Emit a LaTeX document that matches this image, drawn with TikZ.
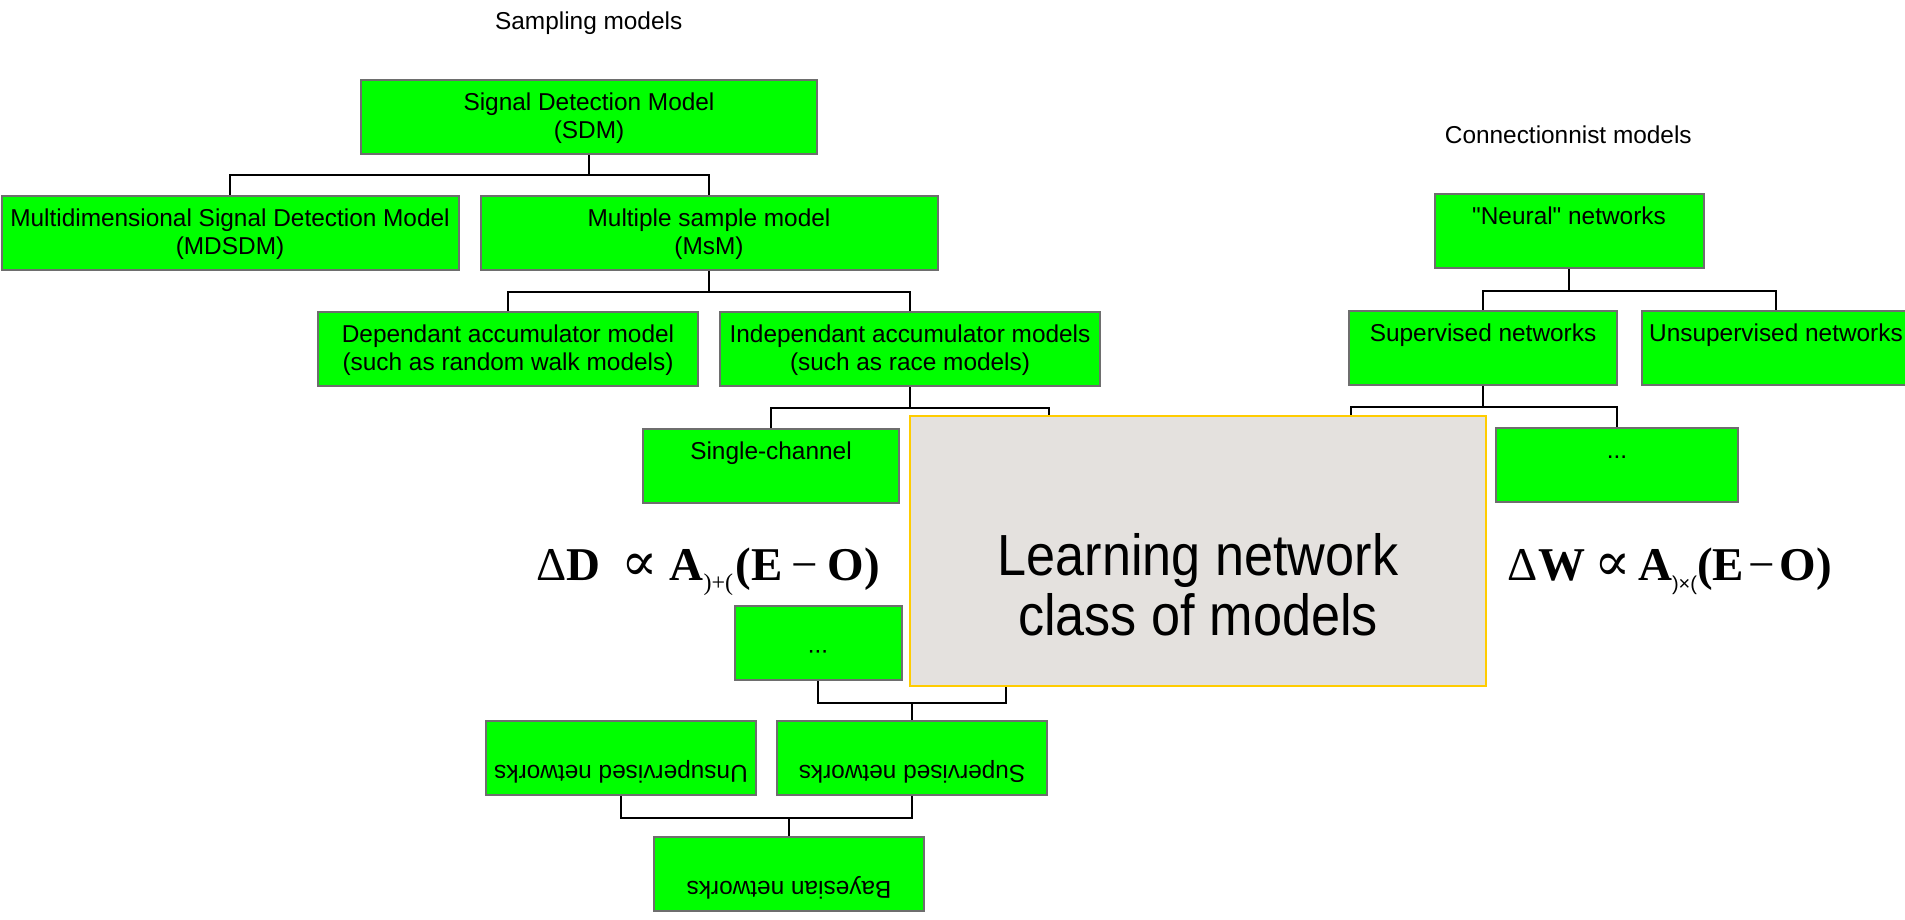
\documentclass[tikz,border=0pt]{standalone}
\usepackage{fontspec}
\setmainfont{Liberation Sans}
\newfontfamily\qfont{Liberation Sans}
\newfontfamily\bigfont{Liberation Sans}[FakeStretch=0.9]
\newfontfamily\tnr{Liberation Serif}
\newfontfamily\dvs{DejaVu Serif}
\definecolor{boxgreen}{HTML}{00FF00}
\definecolor{boxborder}{HTML}{6E6E6E}
\definecolor{grayfill}{HTML}{E4E1DE}
\definecolor{goldline}{HTML}{FFCC00}
\begin{document}
\begin{tikzpicture}[x=1pt,y=-1pt,
  box/.style={draw=boxborder, line width=2pt, fill=boxgreen, inner sep=0pt,
    align=center, text height=30pt, text depth=44pt, minimum width=#1,
    font=\fontsize{24.4}{28}\selectfont},
  boxtwo/.style={box=#1, text height=58pt, text depth=16pt},
  flipbox/.style={box=#1, rotate=180},
  conn/.style={draw=black, line width=2pt},
  titletext/.style={anchor=base, inner sep=0pt, font=\fontsize{24.4}{28}\selectfont},
  formula/.style={anchor=base, inner sep=0pt}]
\fill[white] (0,0) rectangle (1905,919);
\useasboundingbox (0,0) rectangle (1905,919);

% titles
\node[titletext] (tsamp) at (588.7,29) {Sampling models};
\node[titletext] (tconn) at (1568.3,143) {Connectionnist models};

% left tree
\node[boxtwo=456.6pt] (sdm) at (589,117) {Signal Detection Model\\(SDM)};
\node[boxtwo=457pt] (mdsdm) at (230,233) {Multidimensional Signal Detection Model\\(MDSDM)};
\node[boxtwo=457pt] (msm) at (709,233) {Multiple sample model\\(MsM)};
\node[boxtwo=380pt] (dep) at (508,349) {Dependant accumulator model\\(such as random walk models)};
\node[boxtwo=380pt] (indep) at (910,349) {Independant accumulator models\\(such as race models)};
\node[box=256.4pt] (single) at (771,466) {Single-channel};

% right tree
\node[box=269pt] (neural) at (1569,231) {{\qfont"}Neural{\qfont"} networks};
\node[box=268.6pt] (sup) at (1483,348) {Supervised networks};
\node[box=268.4pt] (unsup) at (1776,348) {Unsupervised networks};
\node[box=242.5pt] (rdots) at (1617,465) {...};

% flipped tree (rotated 180 degrees: north anchor is the visual bottom)
\node[flipbox=167pt] (ldots) at (818,643) {...};
\node[flipbox=270.5pt] (supflip) at (912,758) {Supervised networks};
\node[flipbox=269.7pt] (unsupflip) at (621,758) {Unsupervised networks};
\node[flipbox=269.8pt] (bayes) at (789,874) {Bayesian networks};

% hidden endpoints under the grey box
\coordinate (h1) at (1049,416);
\coordinate (h2) at (1351,416);
\coordinate (h3) at (1006,686);

% connectors
\draw[conn] (sdm.south) -- ++(0,20) -| (mdsdm.north);
\draw[conn] (sdm.south) -- ++(0,20) -| (msm.north);
\draw[conn] (msm.south) -- ++(0,21) -| (dep.north);
\draw[conn] (msm.south) -- ++(0,21) -| (indep.north);
\draw[conn] (indep.south) -- ++(0,21) -| (single.north);
\draw[conn] (indep.south) -- ++(0,21) -| (h1);
\draw[conn] (neural.south) -- ++(0,22) -| (sup.north);
\draw[conn] (neural.south) -- ++(0,22) -| (unsup.north);
\draw[conn] (sup.south) -- ++(0,21) -| (rdots.north);
\draw[conn] (sup.south) -- ++(0,21) -| (h2);
\draw[conn] (ldots.north) -- ++(0,22) coordinate (bus1) -| (h3);
\draw[conn] (supflip.south) -- (supflip.south |- bus1);
\draw[conn] (unsupflip.north) -- ++(0,22) coordinate (bus2) -| (supflip.north);
\draw[conn] (bayes.south) -- (bayes.south |- bus2);

% grey box
\node[draw=goldline, line width=2pt, fill=grayfill, inner sep=0pt, align=center,
  minimum width=575.2pt, text height=219pt, text depth=51.3pt,
  font=\bigfont\fontsize{58}{60}\selectfont] (learn) at (1198,551.15)
  {Learning network\\class of models};

% formulas
\node[formula] (fD) at (708,580) {\tnr\fontsize{47}{47}\selectfont
  Δ\textbf{D}\hspace{0.45em}{\dvs\fontsize{54}{54}\selectfont ∝}\hspace{0.25em}\textbf{A}\raisebox{-10pt}{\fontsize{24}{24}\selectfont )+(}\hspace{0.05em}\textbf{(E}\hspace{0.2em}−\hspace{0.2em}\textbf{O)}};
\node[formula] (fW) at (1670,580) {\tnr\fontsize{47}{47}\selectfont
  Δ\textbf{W}\hspace{0.2em}{\dvs\fontsize{54}{54}\selectfont ∝}\hspace{0.15em}\textbf{A}\raisebox{-10pt}{\rmfamily\fontsize{20}{20}\selectfont )×(}\textbf{(E}\hspace{0.1em}−\hspace{0.1em}\textbf{O)}};
\end{tikzpicture}
\end{document}
